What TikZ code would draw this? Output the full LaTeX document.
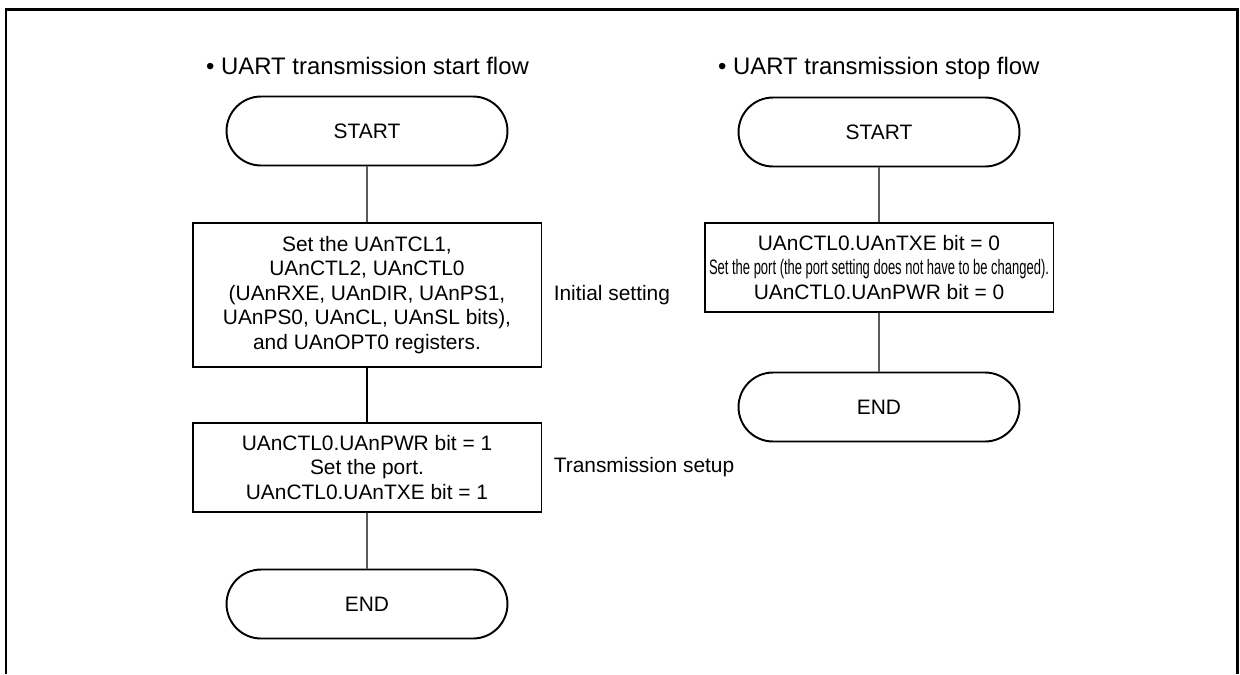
\documentclass[tikz,border=0pt]{standalone}
\usepackage{graphicx}
\usepackage{fontspec}
\setmainfont{Liberation Sans}
\usetikzlibrary{positioning, shapes.misc}

\begin{document}
\begin{tikzpicture}[
  x=0.02cm, y=-0.02cm,
  every node/.style={font=\fontsize{11.9}{13.9}\selectfont},
  terminal/.style={
    rounded rectangle, draw, line width=1.1pt,
    minimum width=5.62cm, minimum height=1.38cm, inner sep=0pt
  },
  procbox/.style={
    rectangle, draw, line width=1.1pt,
    minimum width=6.98cm, minimum height=#1, align=center, inner sep=0pt
  },
  flowline/.style={line width=0.6pt},
  flowtitle/.style={anchor=base west, font=\fontsize{13.6}{16}\selectfont},
  sidelabel/.style={inner sep=0pt},
]
\useasboundingbox (0,0) rectangle (1240,674);

% Frame (open at the bottom)
\draw[line width=1.7pt] (6,674) -- (6,9) -- (1237,9) -- (1237,674);

% === START FLOW ===
\node[flowtitle] (t-start) at (200,74) {\textbullet\ UART transmission start flow};

\node[terminal] (s-begin) at (367,131) {START};
\node[procbox=2.88cm] (s-init) at (367,295)
  {Set the UAnTCL1,\\UAnCTL2, UAnCTL0\\(UAnRXE, UAnDIR, UAnPS1,\\UAnPS0, UAnCL, UAnSL bits),\\and UAnOPT0 registers.};
\node[procbox=1.78cm] (s-setup) at (367,467.5)
  {UAnCTL0.UAnPWR bit = 1\\Set the port.\\UAnCTL0.UAnTXE bit = 1};
\node[terminal] (s-end) at (367,604) {END};

% Start flow connections
\draw[flowline] (s-begin) -- (s-init);
\draw[flowline] (s-init) -- (s-setup);
\draw[flowline] (s-setup) -- (s-end);

% Labels
\node[sidelabel, right=0.22cm of s-init] {Initial setting};
\node[sidelabel, right=0.22cm of s-setup] {Transmission setup};

% === STOP FLOW ===
\node[flowtitle] (t-stop) at (712,74) {\textbullet\ UART transmission stop flow};

\node[terminal] (p-begin) at (879,132) {START};
\node[procbox=1.78cm] (p-stop) at (879,267.5)
  {UAnCTL0.UAnTXE bit = 0\\
   \resizebox{6.8cm}{\height}{Set the port (the port setting does not have to be changed).}\\
   UAnCTL0.UAnPWR bit = 0};
\node[terminal] (p-end) at (879,407) {END};

% Stop flow connections
\draw[flowline] (p-begin) -- (p-stop);
\draw[flowline] (p-stop) -- (p-end);

\end{tikzpicture}
\end{document}
